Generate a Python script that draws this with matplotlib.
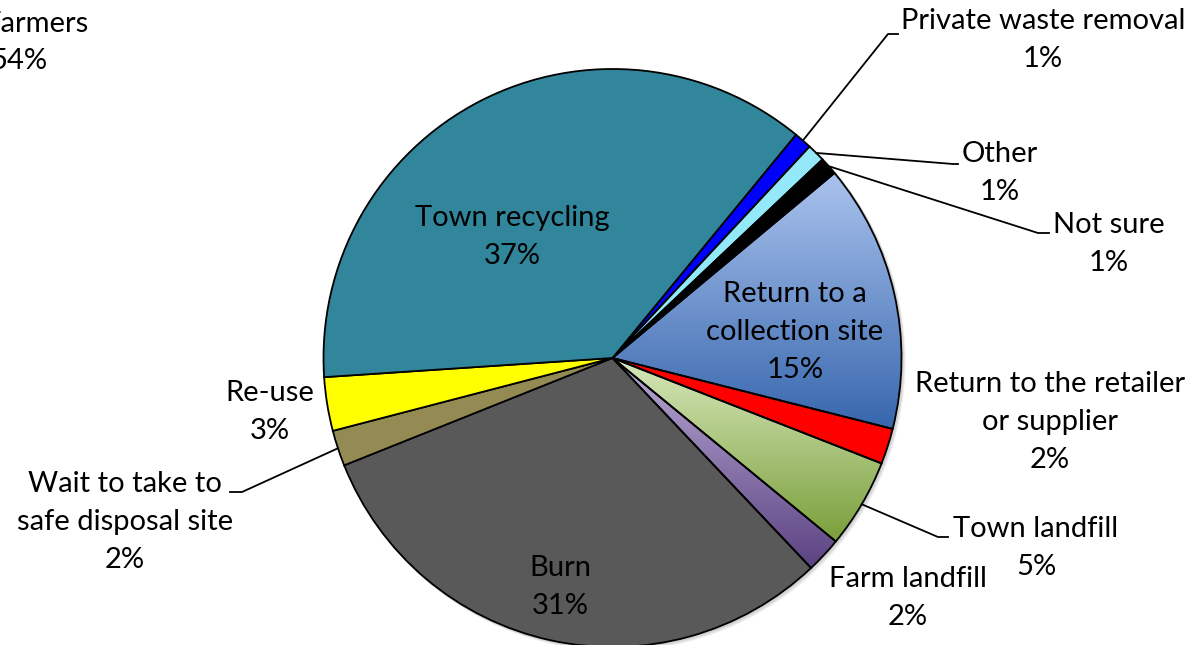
import numpy as np
import matplotlib.pyplot as plt
from matplotlib.colors import LinearSegmentedColormap
from matplotlib.patches import Circle

# Data (clockwise from the upper right)
labels = ['Private waste removal', 'Other', 'Not sure', 'Return to a\ncollection site',
          'Return to the retailer\nor supplier', 'Town landfill', 'Farm landfill', 'Burn',
          'Wait to take to\nsafe disposal site', 'Re-use', 'Town recycling']
values = [1, 1, 1, 15, 2, 5, 2, 31, 2, 3, 37]

colors = ['#0000FF', '#93E8FA', '#000000', '#8FAADC', '#FF0000', '#B5D08A', '#8F7AB0',
          '#595959', '#948A54', '#FFFF00', '#31869C']
# vertical gradients (top, bottom) for some slices
gradients = {3: ('#AAC3EE', '#3766AD'), 5: ('#D8E8BC', '#7A9F3A'), 6: ('#BBAAD6', '#5B4382')}

W, H = 1194, 645
cx, cy, R = 612.5, H - 358, 289

fig = plt.figure(figsize=(W / 100, H / 100), dpi=100)
ax = fig.add_axes([0, 0, 1, 1])

# soft shadow
for i, a in enumerate([0.10, 0.10, 0.10]):
    ax.add_patch(Circle((cx + 1 + i, cy - 1 - i), R + 1, color='#555555', alpha=a, lw=0, zorder=0))

wedges, _ = ax.pie(values, colors=colors, startangle=50.6, counterclock=False,
                   radius=R, center=(cx, cy),
                   wedgeprops=dict(edgecolor='black', linewidth=1.3))

for i, (top, bot) in gradients.items():
    w = wedges[i]
    ext = w.get_path().get_extents()
    cmap = LinearSegmentedColormap.from_list('g%d' % i, [top, bot])
    im = ax.imshow(np.linspace(0, 1, 256)[:, None], cmap=cmap, aspect='auto', origin='upper',
                   extent=[ext.x0, ext.x1, ext.y0, ext.y1], zorder=w.get_zorder() - 0.1)
    im.set_clip_path(w)
    w.set_facecolor('none')
    w.set_zorder(w.get_zorder() + 0.5)

pct = [f'{v}%' for v in values]
font = dict(family='Lato', fontsize=21, color='black', linespacing=1.55)

# label centres in pixels (x, y of the text block centre)
label_pos = [(1043, 40), (1000, 173), (1109, 244), (795, 332), (1050, 422), (1036, 548),
             (908, 598), (560, 587), (125, 522), (270, 412), (512, 237)]
for lab, p, (x, y) in zip(labels, pct, label_pos):
    ax.text(x, H - y, f'{lab}\n{p}', ha='center', va='center', zorder=5, **font)

# leader lines: (slice index, elbow point, end point)
leaders = [(0, (888, 34), (898, 34)), (1, (953, 164), (958, 164)),
           (2, (1038, 233), (1049, 233)), (5, (938, 537), (948, 537)),
           (8, (242, 492), (230, 492))]
for i, (ex, ey), (tx, ty) in leaders:
    w = wedges[i]
    t = np.radians((w.theta1 + w.theta2) / 2)
    sx, sy = cx + R * np.cos(t), cy + R * np.sin(t)
    ax.plot([sx, ex, tx], [sy, H - ey, H - ty], color='black', lw=1.3, zorder=4)

# label of a neighbouring chart, cropped at the left edge as in the reference
ax.text(89, H - 24, 'Farmers', ha='right', va='center', **font)
ax.text(47, H - 61, '54%', ha='right', va='center', **font)

ax.set_xlim(0, W)
ax.set_ylim(0, H)
ax.set_aspect('equal')
ax.axis('off')

fig.savefig('out.png', dpi=100, facecolor='white')
